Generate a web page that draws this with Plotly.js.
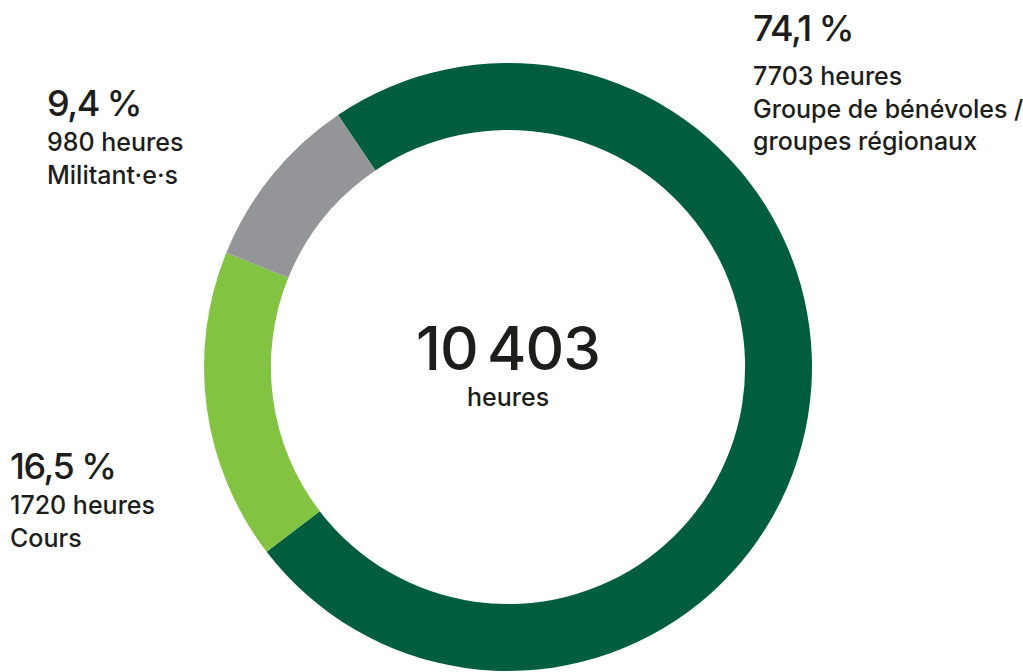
<!DOCTYPE html>
<html>
<head>
<meta charset="utf-8">
<script src="https://cdn.plot.ly/plotly-3.0.1.min.js"></script>
<style>html,body{margin:0;padding:0;background:#fff;}#chart{width:1023px;height:672px;}</style>
</head>
<body>
<div id="chart"></div>
<script>
const categories = ["Groupe de bénévoles / groupes régionaux", "Cours", "Militant·e·s"];
const hours = [7703, 1720, 980];
const percentLabels = ["74,1 %", "16,5 %", "9,4 %"];
const hourLabels = ["7703 heures", "1720 heures", "980 heures"];
const totalLabel = "10\u2009403";
const totalUnit = "heures";
const colors = ["#005e3e", "#82c341", "#939598"];

const W = 1023, H = 672;
const px = x => x / W;
const py = y => 1 - y / H;
const cx = 508, cy = 367, R = 304;

const font = "Inter, Liberation Sans, Arial, sans-serif";
const ink = "#1d1d1b";

const trace = {
  type: "pie",
  values: hours,
  labels: categories,
  sort: false,
  direction: "clockwise",
  rotation: -34,
  hole: 0.78,
  marker: {colors: colors, line: {width: 0}},
  textinfo: "none",
  hoverinfo: "label+value+percent",
  showlegend: false,
  domain: {x: [px(cx - R), px(cx + R)], y: [py(cy + R), py(cy - R)]}
};

function tight(t, ls) {
  return '<span style="letter-spacing:' + ls + 'px">' + t + '</span>';
}

function ann(text, x, y, size, anchor) {
  return {text: text, xref: "paper", yref: "paper", x: px(x), y: py(y),
    xanchor: anchor || "left", yanchor: "middle", align: anchor === "center" ? "center" : "left",
    showarrow: false, font: {family: font, size: size, color: ink, weight: 500}};
}

const annotations = [
  ann(tight(percentLabels[0], -1.5), 751, 28, 36),
  ann(hourLabels[0] + "<br>Groupe de bénévoles /<br>groupes régionaux", 751, 109, 25),
  ann(tight(percentLabels[2], -1.5), 45, 103, 36),
  ann(hourLabels[2] + "<br>" + categories[2], 45, 159, 25),
  ann(tight(percentLabels[1], -1.5), 8, 466, 36),
  ann(hourLabels[1] + "<br>" + categories[1], 8, 521, 25),
  ann(tight(totalLabel, -1), 508, 348, 60, "center"),
  ann(totalUnit, 508, 397, 25, "center")
];

Plotly.newPlot("chart", [trace], {
  width: W, height: H,
  margin: {l: 0, r: 0, t: 0, b: 0},
  paper_bgcolor: "#fff",
  annotations: annotations
}, {displayModeBar: false, staticPlot: true});
</script>
</body>
</html>
